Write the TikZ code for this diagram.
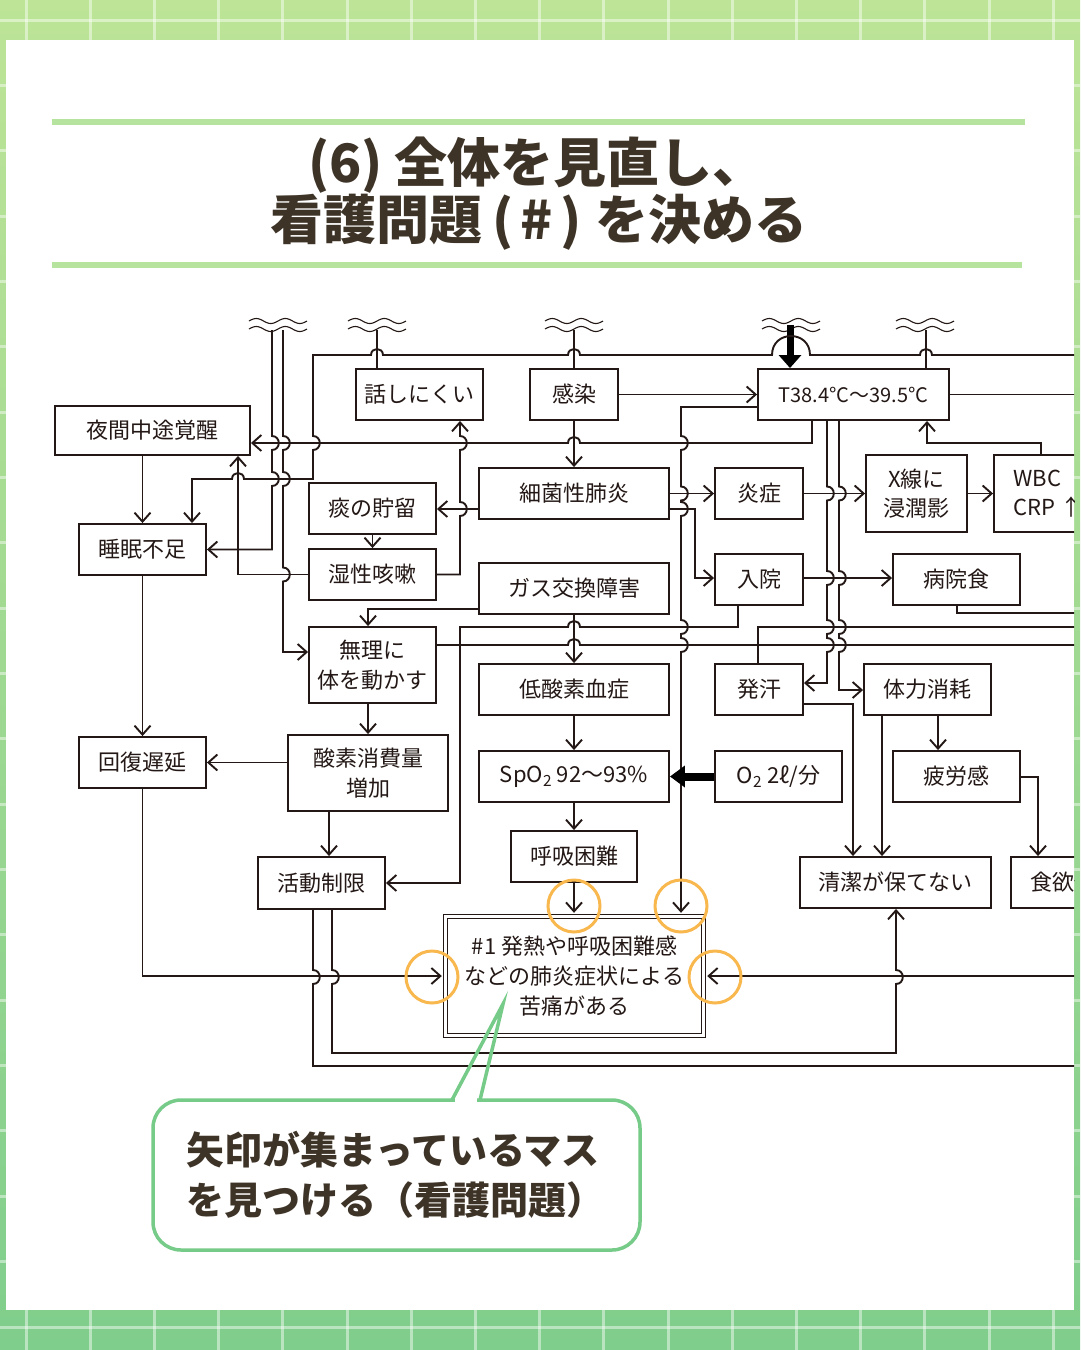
\documentclass[tikz,border=0pt]{standalone}
\usepackage{fontspec}
\newfontfamily\jp{Noto Sans CJK JP}
\usetikzlibrary{arrows.meta}
\definecolor{lc}{HTML}{231815}
\definecolor{tc}{HTML}{3E3327}
\definecolor{bgtop}{HTML}{BDE497}
\definecolor{bgbot}{HTML}{80CE8C}
\definecolor{gline}{HTML}{B6E39E}
\definecolor{callg}{HTML}{76CB88}
\definecolor{orng}{HTML}{F8B84E}
\newcommand\hjR[2]{-- (#1-6,#2) .. controls (#1-6,#2-8) and (#1+6,#2-8) .. (#1+6,#2)}
\newcommand\hjL[2]{-- (#1+6,#2) .. controls (#1+6,#2-8) and (#1-6,#2-8) .. (#1-6,#2)}
\newcommand\vjD[2]{-- (#1,#2-7) .. controls (#1+9,#2-7) and (#1+9,#2+7) .. (#1,#2+7)}
\newcommand\vjU[2]{-- (#1,#2+7) .. controls (#1+9,#2+7) and (#1+9,#2-7) .. (#1,#2-7)}
\newcommand\wavemark[1]{%
  \draw[wv] plot[domain=0:58,samples=50] ({#1-29+\x},{321-2.5*sin(12.4*\x)});
  \draw[wv] plot[domain=0:58,samples=50] ({#1-29+\x},{329-2.5*sin(12.4*\x)});}
\tikzset{
  ln/.style={draw=lc, line width=1.9pt},
  arr/.style={ln, -{Straight Barb[length=9pt,width=16pt]}},
  top1/.style={shorten >=2.9pt},
  box/.style={draw=lc, line width=1.9pt, fill=white, inner sep=0pt, align=center,
    text=lc, font=\jp\fontsize{22}{30}\selectfont},
  wv/.style={draw=lc, line width=1.1pt},
  fatarr/.style={draw=black, line width=7pt, -{Triangle[length=13pt,width=22pt]}},
  fatarrb/.style={draw=black, line width=8pt, -{Triangle[length=15pt,width=21pt]}},
  gridln/.style={white, opacity=0.45, line width=3pt},
}
\begin{document}
\begin{tikzpicture}[x=1pt,y=-1pt]
\useasboundingbox (0,0) rectangle (1080,1350);
% background
\shade[top color=bgtop, bottom color=bgbot] (0,0) rectangle (1080,1350);
\foreach \i in {0,...,16} \draw[gridln] ({26+64.2*\i},0) -- ({26+64.2*\i},1350);
\foreach \i in {0,...,20} \draw[gridln] (0,{20+65.35*\i}) -- (1080,{20+65.35*\i});
\fill[white] (6,40) rectangle (1074,1310);
% title
\draw[gline, line width=6pt] (52,122) -- (1025,122);
\draw[gline, line width=6pt] (52,265) -- (1022,265);
\node[font=\jp\bfseries\fontsize{53}{57}\selectfont, text=tc] (title1) at (537,165) {(6) 全体を見直し、};
\node[font=\jp\bfseries\fontsize{53}{57}\selectfont, text=tc] (title2) at (539,222) {看護問題\hspace{10pt}(\hspace{7pt}\#\hspace{7pt})\hspace{14pt}を決める};

\begin{scope}
\clip (6,40) rectangle (1074,1310);
% nodes
\node[box, minimum width=195pt, minimum height=49pt] (yakan) at (152.5,430.5) {夜間中途覚醒};
\node[box, minimum width=127pt, minimum height=51pt] (suimin) at (142.5,549.5) {睡眠不足};
\node[box, minimum width=127pt, minimum height=51pt] (hanashi) at (419.5,394.5) {話しにくい};
\node[box, minimum width=88pt, minimum height=51pt] (kansen) at (574,394.5) {感染};
\node[box, minimum width=191pt, minimum height=51pt, font=\jp\fontsize{20}{26}\selectfont] (T) at (853.5,394.5) {T38.4°C〜39.5°C};
\node[box, minimum width=127pt, minimum height=51pt] (tan) at (372.5,508.5) {痰の貯留};
\node[box, minimum width=127pt, minimum height=51pt] (shissei) at (372.5,574.5) {湿性咳嗽};
\node[box, minimum width=190pt, minimum height=51pt] (saikin) at (574,493.5) {細菌性肺炎};
\node[box, minimum width=190pt, minimum height=51pt] (gas) at (574,588.5) {ガス交換障害};
\node[box, minimum width=88pt, minimum height=51pt] (ensho) at (759,493.5) {炎症};
\node[box, minimum width=101pt, minimum height=77pt, font=\jp\fontsize{22}{29}\selectfont] (xsen) at (916.5,493.5) {X線に\\浸潤影};
\node[box, minimum width=108pt, minimum height=77pt, align=left, font=\jp\fontsize{22}{29}\selectfont] (wbc) at (1048,493.5) {WBC\\CRP ↑};
\node[box, minimum width=88pt, minimum height=51pt] (nyuin) at (759,579.5) {入院};
\node[box, minimum width=127pt, minimum height=51pt] (byoin) at (956.5,579.5) {病院食};
\node[box, minimum width=127pt, minimum height=76pt] (muri) at (372.5,665) {無理に\\体を動かす};
\node[box, minimum width=160pt, minimum height=76pt] (sanso) at (368,773) {酸素消費量\\増加};
\node[box, minimum width=127pt, minimum height=51pt] (kaifuku) at (142.5,762.5) {回復遅延};
\node[box, minimum width=127pt, minimum height=52pt] (katsudo) at (321.5,883) {活動制限};
\node[box, minimum width=190pt, minimum height=51pt] (teisanso) at (574,689.5) {低酸素血症};
\node[box, minimum width=190pt, minimum height=51pt] (spo2) at (574,776.5) {SpO\textsubscript{2} 92〜93\%};
\node[box, minimum width=126pt, minimum height=51pt] (kokyu) at (574,856.5) {呼吸困難};
\node[box, minimum width=88pt, minimum height=51pt] (hakkan) at (759,689.5) {発汗};
\node[box, minimum width=127pt, minimum height=51pt] (o2) at (778.5,776.5) {O\textsubscript{2} 2ℓ/分};
\node[box, minimum width=127pt, minimum height=51pt] (tairyoku) at (927.5,689.5) {体力消耗};
\node[box, minimum width=127pt, minimum height=51pt] (hiro) at (956.5,776.5) {疲労感};
\node[box, minimum width=191pt, minimum height=51pt] (seiketsu) at (895.5,882.5) {清潔が保てない};
\node[box, minimum width=127pt, minimum height=51pt] (shoku) at (1074.5,882.5) {食欲低下};
\node[box, line width=1.6pt, double=white, double distance=2.6pt, minimum width=258pt, minimum height=119pt] (p1) at (574.5,976) {\#1 発熱や呼吸困難感\\などの肺炎症状による\\苦痛がある};

% free ends
\coordinate (w1a) at (272,330); \coordinate (w1b) at (283,330);
\coordinate (w2) at (377,330); \coordinate (w3) at (574,330);
\coordinate (w4) at (790,325); \coordinate (w5) at (926,330);
\coordinate (e1) at (1080,355);
\coordinate (e2) at (1080,613);
\coordinate (e3) at (1080,627);
\coordinate (e4) at (1080,645);
\coordinate (e5) at (1080,394.5);
\coordinate (e6) at (1080,977);
\coordinate (e7) at (1080,1066);

% wave marks
\wavemark{278}
\wavemark{377}
\wavemark{574}
\wavemark{791}
\wavemark{925}

% connectors
\draw[arr] (w1a) \vjD{272}{443} \vjD{272}{479} -- (272,549.5) -- (suimin.east);
\draw[arr] (w1b) \vjD{283}{443} \vjD{283}{479} \vjD{283}{574.5} -- (283,652) -- (muri.west |- 0,652);
\draw[ln] (w2) -- (hanashi.north -| w2);
\draw[ln] (w3) -- (kansen.north);
\draw[fatarr] (w4) -- (T.north -| w4);
\draw[ln] (w5) -- (T.north -| w5);
\draw[arr] (e1) \hjL{926}{355} -- (810,355) .. controls (810,329.7) and (772,329.7) .. (772,355) \hjL{574}{355} \hjL{377}{355} -- (313,355) \vjD{313}{443} -- (313,479) \hjL{238}{479} -- (192,479) -- (suimin.north -| 192,0);
\draw[arr] (kansen.east) -- (T.west);
\draw[arr] (kansen.south) -- (saikin.north);
\draw[arr] (T.south -| 812,0) -- (812,443) \hjL{574}{443} -- (yakan.east |- 0,443);
\draw[arr,top1] (T.west |- 0,407) -- (681,407) \vjD{681}{443} \vjD{681}{493.5} \vjD{681}{509} \vjD{681}{627} \vjD{681}{645} -- (p1.north -| 681,0);
\draw[arr] (saikin.east) -- (ensho.west);
\draw[arr] (saikin.east |- 0,509) -- (695,509) -- (695,578) -- (nyuin.west |- 0,578);
\draw[arr] (ensho.east) -- (xsen.west);
\draw[arr] (T.south -| 827,0) \vjD{827}{493.5} \vjD{827}{578} \vjD{827}{627} \vjD{827}{645} -- (827,683) -- (hakkan.east |- 0,683);
\draw[arr] (T.south -| 839,0) \vjD{839}{493.5} \vjD{839}{578} \vjD{839}{627} \vjD{839}{645} -- (839,690) -- (tairyoku.west |- 0,690);
\draw[arr] (xsen.east) -- (wbc.west);
\draw[arr] (wbc.north -| 1041,0) -- (1041,443) -- (927,443) -- (T.south -| 927,0);
\draw[arr] (nyuin.east |- 0,578) -- (byoin.west |- 0,578);
\draw[ln] (byoin.south -| 957,0) -- (957,613) -- (e2);
\draw[arr] (nyuin.south -| 738,0) -- (738,627) \hjL{574}{627} -- (460,627) -- (460,883) -- (katsudo.east |- 0,883);
\draw[ln] (hakkan.north -| 758,0) -- (758,627) -- (e3);
\draw[ln] (muri.east |- 0,645) \hjR{574}{645} -- (e4);
\draw[arr] (gas.west |- 0,609) -- (368,609) -- (muri.north -| 368,0);
\draw[arr] (gas.south) -- (teisanso.north);
\draw[arr] (teisanso.south) -- (spo2.north);
\draw[arr] (spo2.south) -- (kokyu.north);
\draw[arr,top1] (kokyu.south) -- (p1.north -| kokyu.south);
\draw[fatarrb] (o2.west) -- (spo2.east);
\draw[arr] (hakkan.east |- 0,704) -- (853,704) -- (seiketsu.north -| 853,0);
\draw[arr] (tairyoku.south -| 882,0) -- (seiketsu.north -| 882,0);
\draw[arr] (tairyoku.south -| 938,0) -- (hiro.north -| 938,0);
\draw[arr] (hiro.east |- 0,777) -- (1038,777) -- (shoku.north -| 1038,0);
\draw[arr] (katsudo.south -| 332,0) \vjD{332}{977} -- (332,1053) -- (896,1053) \vjU{896}{977} -- (seiketsu.south -| 896,0);
\draw[ln] (katsudo.south -| 313,0) \vjD{313}{977} -- (313,1066) -- (e7);
\draw[arr,top1] (kaifuku.south) -- (142.5,976) -- (p1.west);
\draw[arr,top1] (e6 |- p1.east) -- (p1.east);
\draw[ln] (T.east) -- (e5);
\draw[arr] (yakan.south -| suimin.north) -- (suimin.north);
\draw[arr] (suimin.south) -- (kaifuku.north);
\draw[arr] (sanso.west |- kaifuku.east) -- (kaifuku.east);
\draw[arr] (muri.south -| sanso.north) -- (sanso.north);
\draw[arr] (sanso.south -| 329,0) -- (katsudo.north -| 329,0);
\draw[arr] (saikin.west |- 0,509) -- (tan.east |- 0,509);
\draw[arr] (tan.south) -- (shissei.north);
\draw[arr] (shissei.east) -- (460,574.5) \vjU{460}{509} \vjU{460}{443} -- (hanashi.south -| 460,0);
\draw[arr] (shissei.west) -- (238,574.5) -- (yakan.south -| 238,0);
\end{scope}

% highlight circles
\draw[orng, line width=3pt] (574,906) circle[radius=26];
\draw[orng, line width=3pt] (681,906) circle[radius=26];
\draw[orng, line width=3pt] (432,977) circle[radius=26];
\draw[orng, line width=3pt] (715,977) circle[radius=26];

% callout
\draw[callg, line width=3.5pt, fill=white, rounded corners=28pt] (153,1100) rectangle (640,1250);
\draw[white, line width=5pt] (455,1100) -- (477,1100);
\draw[callg, line width=3.5pt, line join=miter] (452,1100) -- (503,1004) -- (480,1100);
\node[font=\jp\bfseries\fontsize{38}{50}\selectfont, text=tc, align=left, anchor=west] (ctext) at (183,1175) {矢印が集まっているマス\\を見つける（看護問題）};
\end{tikzpicture}
\end{document}
